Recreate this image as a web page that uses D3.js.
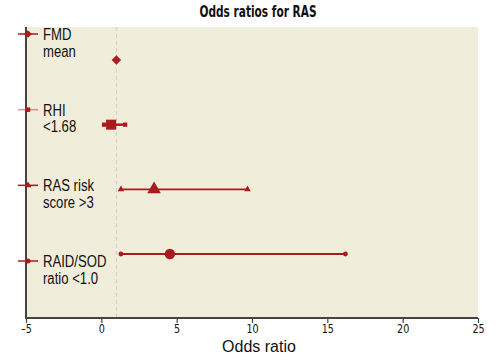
<!DOCTYPE html>
<html>
<head>
<meta charset="utf-8">
<script src="https://cdn.jsdelivr.net/npm/d3@7"></script>
<style>
  body { margin: 0; background: #fff; }
  svg { display: block; }
</style>
</head>
<body>
<div id="chart"></div>
<script>
// Datos
const categories = ['FMD mean', 'RHI <1.68', 'RAS risk score >3', 'RAID/SOD ratio <1.0'];
const labelLines = [['FMD', 'mean'], ['RHI', '<1.68'], ['RAS risk', 'score >3'], ['RAID/SOD', 'ratio <1.0']];
const oddsRatio = [1.0, 0.65, 3.5, 4.55];
const ciLow = [0.97, 0.18, 1.3, 1.3];
const ciHigh = [1.03, 1.58, 9.7, 16.2];
const shapes = ['diamond', 'square', 'triangle', 'circle'];
const xTicks = [-5, 0, 5, 10, 15, 20, 25];
const refValue = 1;

const W = 502, H = 360;
const red = '#ab1a1d';
const plot = { left: 26, right: 478, top: 27, bottom: 318 };

// Diamante = cuadrado girado 45°
function marker(g, shape, size, cx, cy) {
    const type = { diamond: d3.symbolSquare, square: d3.symbolSquare, triangle: d3.symbolTriangle, circle: d3.symbolCircle }[shape];
    return g.append('path')
        .attr('d', d3.symbol(type, size)())
        .attr('transform', `translate(${cx},${cy})` + (shape === 'diamond' ? ' rotate(45)' : ''))
        .attr('fill', red);
}

// Estrecha el texto (la fuente original es condensada)
function narrow(sel, k) {
    sel.each(function () {
        const w = this.getComputedTextLength();
        d3.select(this).attr('textLength', w * k).attr('lengthAdjust', 'spacingAndGlyphs');
    });
}

const svg = d3.select('#chart').append('svg')
    .attr('width', W).attr('height', H);

const x = d3.scaleLinear().domain([-5, 25]).range([plot.left, plot.right]);
const y = d3.scalePoint().domain(categories).range([60, 254]);
const yLegend = d3.scalePoint().domain(categories).range([34, 261]);

// Fondo
svg.append('rect')
    .attr('x', plot.left).attr('y', plot.top)
    .attr('width', plot.right - plot.left).attr('height', plot.bottom - plot.top)
    .attr('fill', '#f1eddb');

// Línea de referencia OR = 1
svg.append('line')
    .attr('x1', x(refValue)).attr('x2', x(refValue))
    .attr('y1', plot.top).attr('y2', plot.bottom)
    .attr('stroke', '#cfcfcf').attr('stroke-width', 1)
    .attr('stroke-dasharray', '4,3');

// Eje X
const xAxis = svg.append('g')
    .attr('transform', `translate(0,${plot.bottom})`)
    .call(d3.axisBottom(x).tickValues(xTicks).tickSize(5).tickFormat(d => d < 0 ? '\u2013' + Math.abs(d) : d));
xAxis.select('.domain').attr('stroke', '#444').attr('stroke-width', 2).attr('d', `M${plot.left},0H${plot.right}`);
xAxis.selectAll('.tick line').attr('stroke', '#444').attr('stroke-width', 1.2);
xAxis.selectAll('.tick text')
    .attr('font-family', '"DejaVu Sans", sans-serif')
    .attr('font-size', 12).attr('fill', '#111').attr('dy', '0.55em')
    .call(narrow, 0.8);

// Eje Y (solo línea)
svg.append('line')
    .attr('x1', plot.left).attr('x2', plot.left)
    .attr('y1', plot.top).attr('y2', plot.bottom + 1)
    .attr('stroke', '#444').attr('stroke-width', 2);

// Intervalos de confianza y puntos
categories.forEach((c, i) => {
    const g = svg.append('g');
    const yy = y(c);
    const lw = i === 3 ? 2.2 : (i === 1 ? 2.5 : 1.8);
    g.append('line')
        .attr('x1', x(ciLow[i])).attr('x2', x(ciHigh[i]))
        .attr('y1', yy).attr('y2', yy)
        .attr('stroke', red).attr('stroke-width', lw);
    [ciLow[i], ciHigh[i]].forEach(v => marker(g, shapes[i], 18, x(v), yy));
    marker(g, shapes[i], [45, 100, 80, 85][i], x(oddsRatio[i]), yy);
});

// Leyenda a la izquierda
categories.forEach((c, i) => {
    const yy = yLegend(c);
    const g = svg.append('g');
    g.append('line')
        .attr('x1', 18).attr('x2', 38).attr('y1', yy).attr('y2', yy)
        .attr('stroke', red).attr('stroke-width', 1.5)
        .attr('opacity', i === 1 ? 0.45 : 1);
    marker(g, shapes[i], i === 0 ? 30 : 20, 28, yy);
    labelLines[i].forEach((line, j) => {
        g.append('text')
            .attr('x', 43).attr('y', yy + 6 + j * 16.5)
            .attr('font-family', '"Liberation Sans", Arial, sans-serif')
            .attr('font-size', 16).attr('fill', '#111')
            .text(line)
            .call(narrow, 0.82);
    });
});

// Títulos
svg.append('text')
    .attr('x', 258).attr('y', 17)
    .attr('text-anchor', 'middle')
    .attr('font-family', '"DejaVu Sans", sans-serif')
    .attr('font-weight', 'bold').attr('font-size', 15).attr('fill', '#111')
    .attr('textLength', 117).attr('lengthAdjust', 'spacingAndGlyphs')
    .text('Odds ratios for RAS');

svg.append('text')
    .attr('x', 259).attr('y', 352)
    .attr('text-anchor', 'middle')
    .attr('font-family', '"Liberation Sans", Arial, sans-serif')
    .attr('font-size', 16).attr('fill', '#111')
    .text('Odds ratio');
</script>
</body>
</html>
